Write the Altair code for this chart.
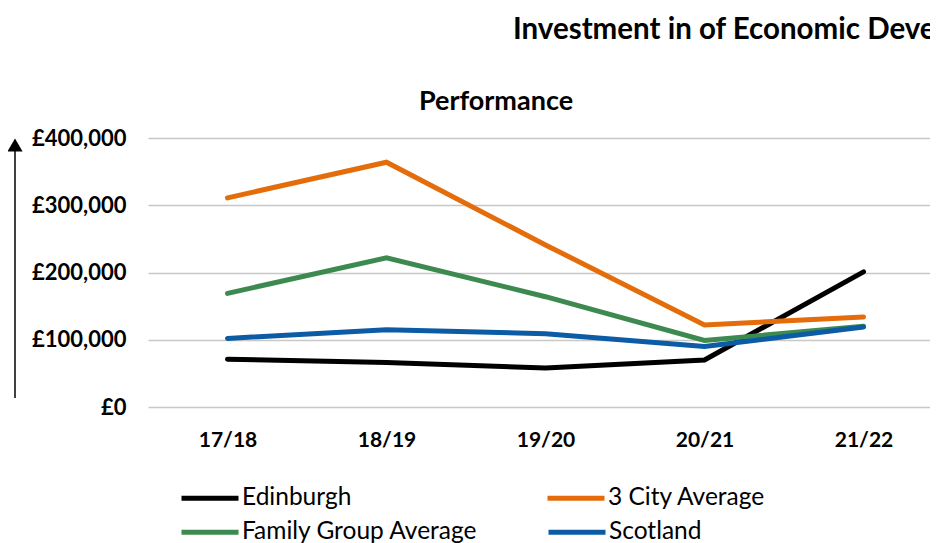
import altair as alt
import pandas as pd

years = ["17/18", "18/19", "19/20", "20/21", "21/22"]
edinburgh = [71000, 66000, 58000, 70000, 201000]
three_city = [311000, 364000, 241000, 122000, 134000]
family_group = [169000, 222000, 164000, 99000, 120000]
scotland = [102000, 115000, 109000, 90000, 119000]
series_names = ["Edinburgh", "3 City Average", "Family Group Average", "Scotland"]
series_colors = ["#000000", "#E46C0A", "#3C8A50", "#0B5CA4"]
y_ticks = [0, 100000, 200000, 300000, 400000]
title_text = "Investment in of Economic Development"
subtitle_text = "Performance"

rows = []
for name, vals in zip(series_names, [edinburgh, three_city, family_group, scotland]):
    for yr, v in zip(years, vals):
        rows.append({"year": yr, "series": name, "value": v})
df = pd.DataFrame(rows)

FONT = "Lato"

x_enc = alt.X("year:O", sort=years,
              scale=alt.Scale(type="point", range=[0, 795], padding=0.5),
              axis=alt.Axis(title=None, domain=False, ticks=False, tickSize=0,
                            labelAngle=0, labelFont=FONT, labelFontWeight="bold",
                            labelFontSize=21, labelColor="#000000", labelPadding=22, grid=False))
y_enc = alt.Y("value:Q", scale=alt.Scale(domain=[0, 400000]),
              axis=alt.Axis(title=None, values=y_ticks, domain=False, ticks=False, tickSize=0,
                            labelExpr="'£' + format(datum.value, ',')",
                            labelFont=FONT, labelFontWeight="bold", labelFontSize=22,
                            labelColor="#000000", labelPadding=22,
                            grid=True, gridColor="#C8C8C8", gridWidth=1.5))


def legend_for(y_pos, col_pad):
    return alt.Legend(title=None, orient="none", legendX=31, legendY=y_pos,
                      direction="horizontal", columnPadding=col_pad,
                      symbolType="stroke", symbolStrokeWidth=5, symbolSize=3249,
                      labelFont=FONT, labelFontSize=24.5, labelColor="#000000",
                      labelOffset=1, labelLimit=400)


row1 = series_names[:2]
row2 = series_names[2:]

lines_a = alt.Chart(df).transform_filter(
    alt.FieldOneOfPredicate(field="series", oneOf=row1)
).mark_line(strokeWidth=5, strokeCap="round").encode(
    x=x_enc, y=y_enc,
    color=alt.Color("series:N", sort=row1,
                    scale=alt.Scale(domain=row1, range=series_colors[:2]),
                    legend=legend_for(329, 185)),
)

lines_b = alt.Chart(df).transform_filter(
    alt.FieldOneOfPredicate(field="series", oneOf=row2)
).mark_line(strokeWidth=5, strokeCap="round").encode(
    x=x_enc, y=y_enc,
    color=alt.Color("series:N", sort=row2,
                    scale=alt.Scale(domain=row2, range=series_colors[2:]),
                    legend=legend_for(363, 60)),
)

dummy = pd.DataFrame({"a": [0]})

title_mark = alt.Chart(dummy).mark_text(
    text=title_text, font=FONT, fontWeight="bold", fontSize=29.5, align="left",
    baseline="alphabetic", color="#000000"
).encode(x=alt.value(365), y=alt.value(-99))

subtitle_mark = alt.Chart(dummy).mark_text(
    text=subtitle_text, font=FONT, fontWeight="bold", fontSize=27, align="center",
    baseline="alphabetic", color="#000000"
).encode(x=alt.value(348), y=alt.value(-28))

arrow_line = alt.Chart(dummy).mark_rule(color="#000000", strokeWidth=1.5).encode(
    x=alt.value(-133), y=alt.value(12), y2=alt.value(260))

arrow_head = alt.Chart(dummy).mark_point(shape="triangle-up", filled=True, size=230,
                                         color="#000000", opacity=1).encode(
    x=alt.value(-133), y=alt.value(7))

chart = alt.layer(lines_a, lines_b, title_mark, subtitle_mark, arrow_line, arrow_head).resolve_scale(
    color="independent"
).properties(
    width=782, height=269,
    background="white",
    autosize=alt.AutoSizeParams(type="none"),
    padding={"left": 140, "top": 130, "right": 0, "bottom": 136},
).configure_view(stroke="transparent", strokeWidth=0)

chart.save("out.html", embed_options={"renderer": "svg", "actions": False})
